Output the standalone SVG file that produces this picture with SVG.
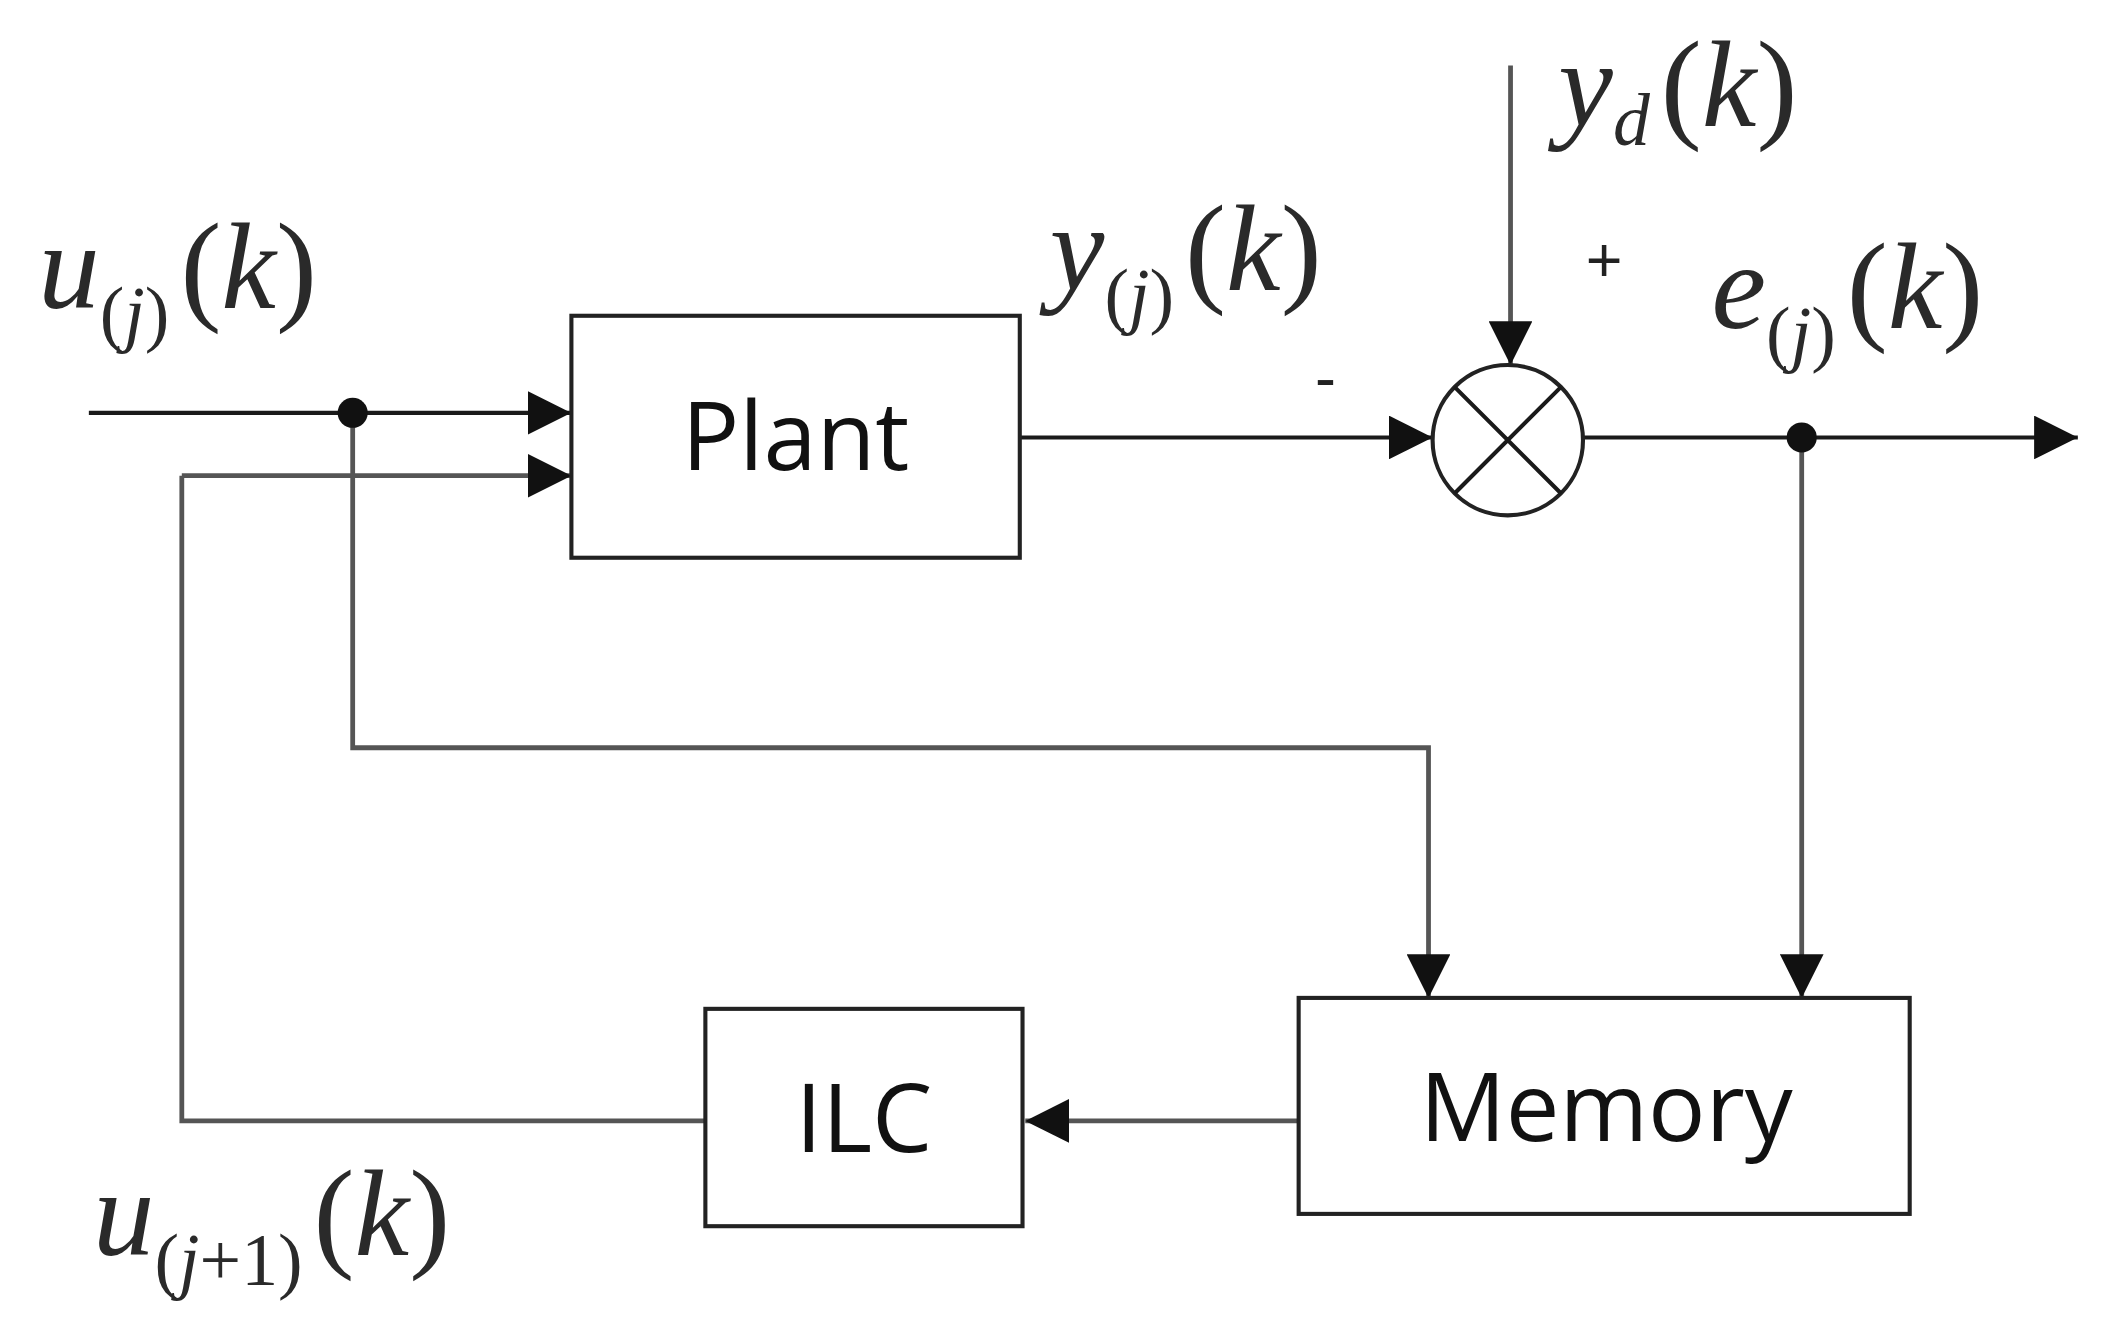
<svg xmlns="http://www.w3.org/2000/svg" width="2112" height="1340" viewBox="0 0 2112 1340">
<style>
.ln{fill:none;stroke:#1a1a1a;stroke-width:3}
.gl{fill:none;stroke:#555;stroke-width:3.5}
.bx{fill:#fff;stroke:#222;stroke-width:3}
.bt{font-family:"Open Sans","DejaVu Sans",sans-serif;font-size:70px;fill:#111;text-anchor:middle}
.m{font-family:"Liberation Serif",serif;font-style:italic;font-size:90px;fill:#2a2a2a}
.p{font-style:normal}
.s{font-size:54px}
.sg{font-family:"Liberation Sans",sans-serif;font-size:46px;fill:#222}
</style>
<defs>
<marker id="A" viewBox="0 0 10 10" refX="10" refY="5" markerWidth="32" markerHeight="32" markerUnits="userSpaceOnUse" orient="auto">
<path d="M0,0 L10,5 L0,10 z" fill="#111"/></marker>
</defs>
<rect width="2112" height="1340" fill="#fff"/>
<g transform="scale(1.367)">
<g id="connectors">
<path class="ln" d="M65,302 H418" marker-end="url(#A)"/>
<path class="gl" d="M133,348 H418" marker-end="url(#A)"/>
<path class="gl" d="M518,820 H133 V348"/>
<path class="ln" d="M746,320 H1048" marker-end="url(#A)"/>
<path class="gl" d="M1105,48 V267" marker-end="url(#A)"/>
<path class="ln" d="M1158,320 H1520" marker-end="url(#A)"/>
<path class="gl" d="M1318,320 V730" marker-end="url(#A)"/>
<path class="gl" d="M258,302 V547 H1045 V730" marker-end="url(#A)"/>
<path class="gl" d="M950,820 H750" marker-end="url(#A)"/>
<circle cx="258" cy="302" r="11" fill="#111"/>
<circle cx="1318" cy="320" r="11" fill="#111"/>
</g>
<g id="plant"><rect class="bx" x="418" y="231" width="328" height="177"/><text class="bt" x="582" y="344">Plant</text></g>
<g id="sum"><circle cx="1103" cy="322" r="55" fill="#fff" stroke="#222" stroke-width="3"/>
<path class="ln" d="M1064,283 L1142,361 M1142,283 L1064,361"/>
<text class="sg" x="1160" y="206">+</text><text class="sg" x="962" y="292">-</text></g>
<g id="memory"><rect class="bx" x="950" y="730" width="447" height="158"/><text class="bt" x="1175" y="835">Memory</text></g>
<g id="ilc"><rect class="bx" x="516" y="738" width="232" height="159"/><text class="bt" x="632" y="843">ILC</text></g>
<g id="labels">
<text class="m" x="28" y="225">u<tspan class="s" dy="22"><tspan class="p">(</tspan>j<tspan class="p">)</tspan></tspan><tspan dy="-22" dx="8"><tspan class="p">(</tspan>k<tspan class="p">)</tspan></tspan></text>
<text class="m" x="768" y="212">y<tspan class="s" dy="22"><tspan class="p">(</tspan>j<tspan class="p">)</tspan></tspan><tspan dy="-22" dx="8"><tspan class="p">(</tspan>k<tspan class="p">)</tspan></tspan></text>
<text class="m" x="1140" y="92">y<tspan class="s" dy="14">d</tspan><tspan dy="-14" dx="8"><tspan class="p">(</tspan>k<tspan class="p">)</tspan></tspan></text>
<text class="m" x="1252" y="240">e<tspan class="s" dy="22"><tspan class="p">(</tspan>j<tspan class="p">)</tspan></tspan><tspan dy="-22" dx="8"><tspan class="p">(</tspan>k<tspan class="p">)</tspan></tspan></text>
<text class="m" x="68" y="918">u<tspan class="s" dy="22"><tspan class="p">(</tspan>j<tspan class="p">+1)</tspan></tspan><tspan dy="-22" dx="8"><tspan class="p">(</tspan>k<tspan class="p">)</tspan></tspan></text>
</g>
</g>
</svg>
